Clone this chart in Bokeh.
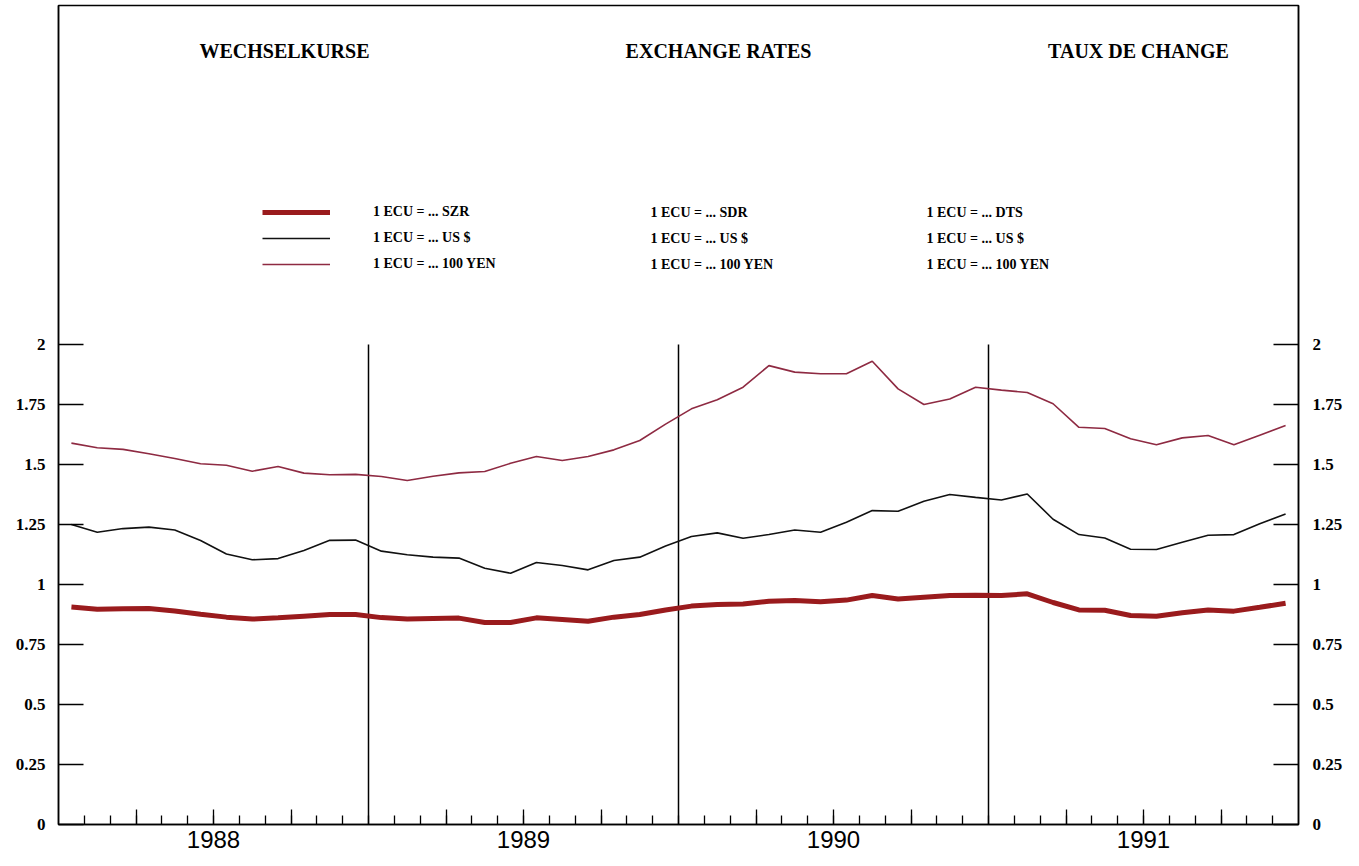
import json
from bokeh.plotting import figure
from bokeh.models import (Range1d, LinearAxis, FixedTicker, CustomJSTickFormatter,
                          Legend, LegendItem, Label)
from bokeh.embed import file_html
from bokeh.resources import INLINE

# ---------------- data ----------------
years = ["1988", "1989", "1990", "1991"]
titles = ["WECHSELKURSE", "EXCHANGE RATES", "TAUX DE CHANGE"]
legend_texts = [
    ["1 ECU = ... SZR", "1 ECU = ... US $", "1 ECU = ... 100 YEN"],
    ["1 ECU = ... SDR", "1 ECU = ... US $", "1 ECU = ... 100 YEN"],
    ["1 ECU = ... DTS", "1 ECU = ... US $", "1 ECU = ... 100 YEN"],
]
y_ticks = [0, 0.25, 0.5, 0.75, 1, 1.25, 1.5, 1.75, 2]

# monthly values, Jan 1988 .. Dec 1991
sdr = [0.906, 0.897, 0.899, 0.900, 0.890, 0.876, 0.864, 0.856, 0.861, 0.868, 0.875, 0.875,
       0.862, 0.856, 0.858, 0.860, 0.842, 0.842, 0.861, 0.854, 0.847, 0.864, 0.875, 0.894,
       0.910, 0.917, 0.919, 0.930, 0.933, 0.928, 0.935, 0.954, 0.940, 0.947, 0.954, 0.955,
       0.954, 0.961, 0.925, 0.894, 0.893, 0.871, 0.868, 0.882, 0.894, 0.889, 0.905, 0.922]
usd = [1.250, 1.218, 1.233, 1.239, 1.227, 1.183, 1.127, 1.103, 1.108, 1.142, 1.184, 1.185,
       1.139, 1.124, 1.114, 1.110, 1.068, 1.047, 1.092, 1.079, 1.061, 1.100, 1.114, 1.160,
       1.200, 1.215, 1.193, 1.208, 1.227, 1.218, 1.259, 1.308, 1.305, 1.347, 1.375, 1.363,
       1.352, 1.377, 1.272, 1.208, 1.194, 1.147, 1.146, 1.176, 1.205, 1.208, 1.253, 1.294]
yen = [1.589, 1.570, 1.563, 1.545, 1.525, 1.503, 1.497, 1.472, 1.492, 1.464, 1.457, 1.459,
       1.450, 1.433, 1.451, 1.465, 1.471, 1.505, 1.533, 1.517, 1.533, 1.561, 1.600, 1.668,
       1.732, 1.770, 1.822, 1.912, 1.885, 1.878, 1.878, 1.930, 1.815, 1.750, 1.773, 1.822,
       1.810, 1.800, 1.753, 1.655, 1.650, 1.607, 1.582, 1.611, 1.621, 1.582, 1.622, 1.662]

# ---------------- geometry ----------------
n_months = 12 * len(years)
x = [i + 0.5 for i in range(n_months)]           # month centres
W, H = 1351, 858
BL, BR, BT, BB = 58, 53, 5, 34
frame_h = H - BT - BB
PX_PER_UNIT = 240.0
y_end = frame_h / PX_PER_UNIT
px_per_month = (W - BL - BR) / n_months

def dx(page_x):   # picture pixel -> data x
    return (page_x - BL) / px_per_month

def dy(page_y):   # picture pixel -> data y
    return (H - BB - page_y) / PX_PER_UNIT

p = figure(width=W, height=H, x_range=Range1d(0, n_months), y_range=Range1d(0, y_end),
           output_backend="svg", toolbar_location=None,
           min_border_left=BL, min_border_right=BR, min_border_top=BT, min_border_bottom=BB)
p.grid.visible = False
p.outline_line_color = "black"
p.outline_line_width = 1.5
p.background_fill_color = "white"

tick_font = "Liberation Serif"

def style_y(ax, standoff):
    ax.ticker = FixedTicker(ticks=y_ticks)
    ax.formatter = CustomJSTickFormatter(code="return tick.toString();")
    ax.major_tick_in = 25
    ax.major_tick_out = 0
    ax.minor_tick_in = 0
    ax.minor_tick_out = 0
    ax.major_tick_line_width = 1.5
    ax.axis_line_width = 1.5
    ax.major_label_standoff = standoff
    ax.major_label_text_font = tick_font
    ax.major_label_text_font_style = "bold"
    ax.major_label_text_font_size = "17px"
    ax.major_label_text_color = "black"

style_y(p.yaxis[0], 13)
right = LinearAxis()
style_y(right, 14)
p.add_layout(right, "right")

quarters = [12 * y + q for y in range(len(years)) for q in (3, 6, 9)]
month_ticks = list(range(1, n_months))
year_mid = [12 * i + 6 for i in range(len(years))]
xa = p.xaxis[0]
xa.ticker = FixedTicker(ticks=quarters, minor_ticks=month_ticks)
xa.formatter = CustomJSTickFormatter(
    code="const pos=%s; const lab=%s; const i=pos.indexOf(tick); return i>=0 ? lab[i] : '';"
         % (json.dumps(year_mid), json.dumps(years)))
xa.major_tick_in = 15
xa.major_tick_out = 0
xa.minor_tick_in = 9
xa.minor_tick_out = 0
xa.major_tick_line_width = 1.3
xa.minor_tick_line_width = 1.3
xa.axis_line_width = 1.5
xa.major_label_standoff = 6
xa.major_label_text_font = "Liberation Sans"
xa.major_label_text_font_size = "24px"
xa.major_label_text_color = "black"

# year dividers
bounds = [12 * (i + 1) for i in range(len(years) - 1)]
p.segment(x0=bounds, y0=[0] * len(bounds), x1=bounds, y1=[2] * len(bounds),
          line_color="black", line_width=1.5)

r_sdr = p.line(x, sdr, line_color="#9a1b1d", line_width=5)
r_usd = p.line(x, usd, line_color="#111111", line_width=1.6)
r_yen = p.line(x, yen, line_color="#8e2a42", line_width=1.6)

legend = Legend(items=[LegendItem(label=legend_texts[0][0], renderers=[r_sdr]),
                       LegendItem(label=legend_texts[0][1], renderers=[r_usd]),
                       LegendItem(label=legend_texts[0][2], renderers=[r_yen])],
                location=(204, 550), glyph_width=68, glyph_height=20, label_height=20,
                label_standoff=43, spacing=6, padding=0, margin=0,
                border_line_color=None, background_fill_alpha=0,
                label_text_font=tick_font, label_text_font_style="bold",
                label_text_font_size="14px", label_text_color="black")
p.add_layout(legend)

col_x = [650, 926]
row_y = [212, 238, 264]
for c, px_ in enumerate(col_x):
    for r, py_ in enumerate(row_y):
        p.add_layout(Label(x=dx(px_), y=dy(py_), text=legend_texts[c + 1][r],
                           text_font=tick_font, text_font_style="bold", text_color="black",
                           text_font_size="14px", text_baseline="middle", text_align="left"))

title_x = [284, 718, 1138]
for t, tx in zip(titles, title_x):
    p.add_layout(Label(x=dx(tx), y=dy(50), text=t, text_font=tick_font, text_color="black",
                       text_font_style="bold", text_font_size="20px",
                       text_baseline="middle", text_align="center"))

open("out.html", "w").write(file_html(p, INLINE))
